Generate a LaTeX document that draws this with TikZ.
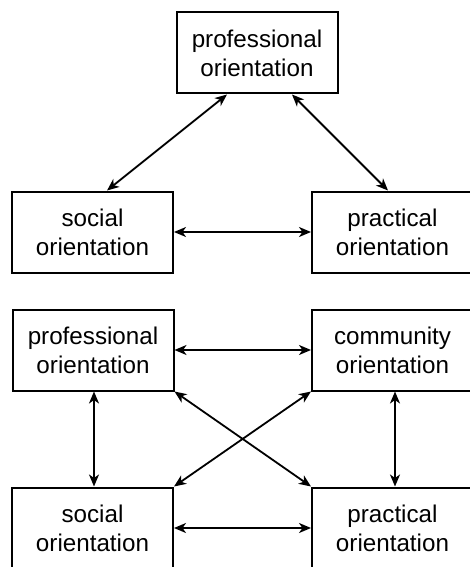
\documentclass[tikz,border=0pt]{standalone}
\usepackage{fontspec}
\setmainfont{Liberation Sans}
\usetikzlibrary{arrows.meta}
\begin{document}
\begin{tikzpicture}[x=1pt,y=-1pt,
  orient/.style={draw=black, line width=2pt, fill=white, rectangle,
    minimum width=161pt, minimum height=81pt, inner sep=0pt, align=center,
    font=\fontsize{24.2}{29}\selectfont},
  link/.style={line width=1.8pt, {Stealth[length=12pt,width=10pt,inset=3.5pt]}-{Stealth[length=12pt,width=10pt,inset=3.5pt]}}]
\useasboundingbox (0,0) rectangle (470,567);
\clip (0,0) rectangle (470,567);

% triangle of three orientations
\node[orient] (prof) at (257,53) {professional\\orientation};
\node[orient] (soc) at (92.5,232) {social\\orientation};
\node[orient] (prac) at (392.5,232) {practical\\orientation};

\draw[link] ([xshift=-30pt]prof.south) -- ([xshift=14.5pt]soc.north);
\draw[link] ([xshift=35pt]prof.south) -- ([xshift=-4.5pt]prac.north);
\draw[link] (soc.east) -- (prac.west);

% square of four orientations
\node[orient] (profB) at (93,350) {professional\\orientation};
\node[orient] (comm) at (392.5,350) {community\\orientation};
\node[orient] (socB) at (92.5,528) {social\\orientation};
\node[orient] (pracB) at (392.5,528) {practical\\orientation};

\draw[link] (profB.east) -- (comm.west);
\draw[link] (socB.east) -- (pracB.west);
\draw[link] ([xshift=1pt]profB.south) -- ([xshift=1.5pt]socB.north);
\draw[link] ([xshift=2.5pt]comm.south) -- ([xshift=2.5pt]pracB.north);
\draw[link] (profB.south east) -- (pracB.north west);
\draw[link] (comm.south west) -- (socB.north east);
\end{tikzpicture}
\end{document}
